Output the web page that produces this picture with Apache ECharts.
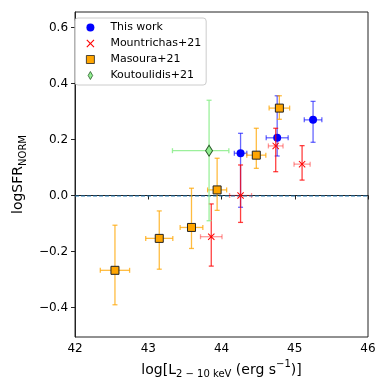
<!DOCTYPE html>
<html>
<head>
<meta charset="utf-8">
<script src="https://cdn.jsdelivr.net/npm/echarts@6/dist/echarts.min.js"></script>
<style>
  html, body { margin: 0; padding: 0; background: #fff; }
  #chart { width: 390px; height: 390px; }
</style>
</head>
<body>
<div id="chart"></div>
<script>
// This work
var thisWorkX = [44.26, 44.76, 45.25];
var thisWorkY = [0.151, 0.206, 0.270];
var thisWorkXErr = [0.085, 0.15, 0.12];
var thisWorkYLo = [0.193, 0.065, 0.08];
var thisWorkYHi = [0.071, 0.150, 0.066];

// Mountrichas+21
var mountX = [43.86, 44.26, 44.74, 45.10];
var mountY = [-0.147, 0.0, 0.177, 0.112];
var mountXErr = [0.147, 0.15, 0.10, 0.11];
var mountYLo = [0.105, 0.096, 0.092, 0.057];
var mountYHi = [0.117, 0.109, 0.063, 0.066];

// Masoura+21
var masX = [42.545, 43.15, 43.59, 43.94, 44.475, 44.79];
var masY = [-0.267, -0.153, -0.114, 0.020, 0.144, 0.312];
var masXErr = [0.20, 0.185, 0.155, 0.13, 0.13, 0.14];
var masYLo = [0.123, 0.11, 0.075, 0.073, 0.047, 0.04];
var masYHi = [0.161, 0.098, 0.14, 0.113, 0.096, 0.044];

// Koutoulidis+21
var koutX = [43.83];
var koutY = [0.16];
var koutXLo = [0.50];
var koutXHi = [0.27];
var koutYLo = [0.25];
var koutYHi = [0.18];

var xTicks = [42, 43, 44, 45, 46];
var yTicks = [-0.4, -0.2, 0.0, 0.2, 0.4, 0.6];

var crossPath = 'path://M1,0L5,4L9,0L10,1L6,5L10,9L9,10L5,6L1,10L0,9L4,5L0,1Z';
var squarePath = 'path://M0,0L10,0L10,10L0,10Z';
var diamondPath = 'path://M4,0L8,7L4,14L0,7Z';
var font = 'DejaVu Sans';

function rows(x, y, xlo, xhi, ylo, yhi) {
  return x.map(function (v, i) {
    return [v, y[i], xlo[i], xhi[i], ylo[i], yhi[i]];
  });
}

// error bars with caps
function errSeries(data, xColor, yColor, z) {
  return {
    type: 'custom',
    z: z,
    silent: true,
    data: data,
    renderItem: function (params, api) {
      var x = api.value(0), y = api.value(1);
      var l = api.coord([x - api.value(2), y]);
      var r = api.coord([x + api.value(3), y]);
      var b = api.coord([x, y - api.value(4)]);
      var t = api.coord([x, y + api.value(5)]);
      var cap = 2.5;
      var xs = { stroke: xColor, lineWidth: 1.3 };
      var ys = { stroke: yColor, lineWidth: 1.3 };
      return {
        type: 'group',
        children: [
          { type: 'line', shape: { x1: l[0], y1: l[1], x2: r[0], y2: r[1] }, style: xs },
          { type: 'line', shape: { x1: l[0], y1: l[1] - cap, x2: l[0], y2: l[1] + cap }, style: xs },
          { type: 'line', shape: { x1: r[0], y1: r[1] - cap, x2: r[0], y2: r[1] + cap }, style: xs },
          { type: 'line', shape: { x1: b[0], y1: b[1], x2: t[0], y2: t[1] }, style: ys },
          { type: 'line', shape: { x1: b[0] - cap, y1: b[1], x2: b[0] + cap, y2: b[1] }, style: ys },
          { type: 'line', shape: { x1: t[0] - cap, y1: t[1], x2: t[0] + cap, y2: t[1] }, style: ys }
        ]
      };
    }
  };
}

function pts(x, y) {
  return x.map(function (v, i) { return [v, y[i]]; });
}

var chart = echarts.init(document.getElementById('chart'));

var option = {
  animation: false,
  backgroundColor: '#fff',
  grid: {
    left: 69, right: 22, top: 12, bottom: 53,
    show: true, borderColor: '#222', borderWidth: 1
  },
  legend: {
    orient: 'vertical',
    left: 75, top: 18,
    padding: [4, 5, 4, 11],
    itemWidth: 8, itemHeight: 8, itemGap: 5,
    symbolKeepAspect: true,
    backgroundColor: 'rgba(255,255,255,0.85)',
    borderColor: '#ccc', borderWidth: 1, borderRadius: 3,
    textStyle: { fontFamily: font, fontSize: 11, color: '#000', padding: [0, 0, 0, 11] },
    data: [
      { name: 'This work', icon: 'circle' },
      { name: 'Mountrichas+21', icon: crossPath },
      { name: 'Masoura+21', icon: squarePath, itemStyle: { borderWidth: 0.8 } },
      { name: 'Koutoulidis+21', icon: diamondPath, itemStyle: { borderWidth: 0.8 } }
    ]
  },
  xAxis: {
    type: 'value',
    min: 42, max: 46, interval: 1,
    axisLine: { show: true, lineStyle: { color: '#222', width: 1 } },
    axisTick: { show: true, length: 4, lineStyle: { color: '#222' } },
    splitLine: { show: false },
    axisLabel: {
      fontFamily: font, fontSize: 12, color: '#000', margin: 6,
      customValues: xTicks,
      formatter: function (v) { return String(v); }
    },
    name: 'log[L{sub|2 − 10 keV} (erg s{sup|−1})]',
    nameLocation: 'middle',
    nameGap: 18,
    nameTextStyle: {
      fontFamily: font, fontSize: 14, color: '#000', lineHeight: 20,
      rich: {
        sub: { fontFamily: font, fontSize: 10, color: '#000', verticalAlign: 'bottom', lineHeight: 10 },
        sup: { fontFamily: font, fontSize: 10, color: '#000', verticalAlign: 'top', lineHeight: 10 }
      }
    }
  },
  yAxis: {
    type: 'value',
    min: -0.505, max: 0.655,
    axisLine: { show: true, onZero: false, lineStyle: { color: '#222', width: 1 } },
    axisTick: { show: true, length: 4, lineStyle: { color: '#222' }, customValues: yTicks },
    splitLine: { show: false },
    axisLabel: {
      fontFamily: font, fontSize: 12, color: '#000', margin: 7,
      customValues: yTicks,
      formatter: function (v) { return v.toFixed(1).replace('-', '−'); }
    },
    name: 'logSFR{sub|NORM}',
    nameLocation: 'middle',
    nameRotate: 90,
    nameGap: 40,
    nameTextStyle: {
      fontFamily: font, fontSize: 14, color: '#000', lineHeight: 20,
      rich: {
        sub: { fontFamily: font, fontSize: 10, color: '#000', verticalAlign: 'bottom', lineHeight: 10 }
      }
    }
  },
  series: [
    errSeries(rows(thisWorkX, thisWorkY, thisWorkXErr, thisWorkXErr, thisWorkYLo, thisWorkYHi),
      'rgba(0,0,255,0.6)', 'rgba(0,0,255,0.6)', 2),
    {
      name: 'This work', type: 'scatter', z: 3,
      symbol: 'circle', symbolSize: 8,
      itemStyle: { color: '#0000ff', opacity: 1 },
      data: pts(thisWorkX, thisWorkY),
      markLine: {
        silent: true, symbol: 'none', label: { show: false },
        lineStyle: { color: 'rgba(31,119,180,0.65)', type: [4, 2], width: 1.6 },
        data: [{ yAxis: 0 }]
      }
    },
    errSeries(rows(mountX, mountY, mountXErr, mountXErr, mountYLo, mountYHi),
      'rgba(255,0,0,0.4)', 'rgba(255,0,0,0.75)', 4),
    {
      name: 'Mountrichas+21', type: 'scatter', z: 5,
      symbol: crossPath, symbolSize: 7,
      itemStyle: { color: '#ff0000', opacity: 1 },
      data: pts(mountX, mountY)
    },
    errSeries(rows(masX, masY, masXErr, masXErr, masYLo, masYHi),
      'rgba(255,165,0,0.75)', 'rgba(255,165,0,0.75)', 6),
    {
      name: 'Masoura+21', type: 'scatter', z: 7,
      symbol: 'rect', symbolSize: 8,
      itemStyle: { color: '#ffa500', borderColor: '#222', borderWidth: 1, opacity: 1 },
      data: pts(masX, masY)
    },
    errSeries(rows(koutX, koutY, koutXLo, koutXHi, koutYLo, koutYHi),
      'rgba(144,238,144,0.9)', 'rgba(144,238,144,0.9)', 8),
    {
      name: 'Koutoulidis+21', type: 'scatter', z: 9,
      symbol: 'diamond', symbolSize: [7, 11],
      itemStyle: { color: '#90ee90', borderColor: '#2a5a2a', borderWidth: 1, opacity: 1 },
      data: pts(koutX, koutY)
    }
  ]
};

chart.setOption(option);
</script>
</body>
</html>
